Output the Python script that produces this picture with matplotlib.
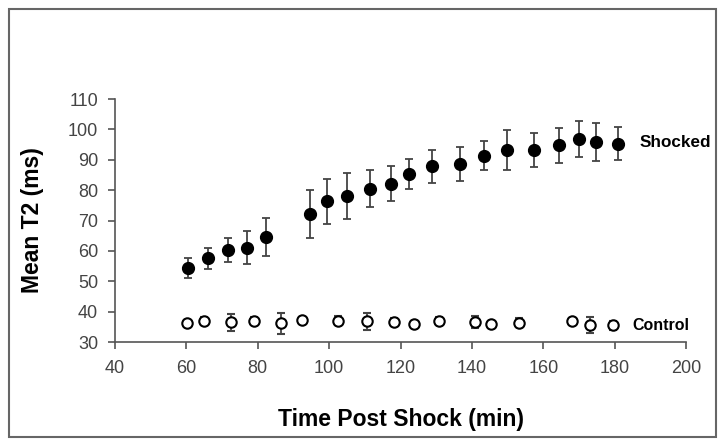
import matplotlib
matplotlib.use("Agg")
import matplotlib.pyplot as plt
from matplotlib.patches import Rectangle

# shocked group
shock_t = [60.4, 66.1, 71.7, 76.9, 82.4, 94.5, 99.4, 104.9, 111.4, 117.3, 122.4,
           128.9, 136.7, 143.3, 149.8, 157.3, 164.4, 169.9, 174.8, 181.0]
shock_t2 = [54.5, 57.6, 60.2, 61.0, 64.5, 72.0, 76.3, 78.0, 80.5, 82.1, 85.4,
            87.8, 88.6, 91.3, 93.3, 93.2, 94.7, 96.8, 95.9, 95.3]
shock_err = [3.3, 3.4, 3.9, 5.4, 6.2, 7.9, 7.3, 7.5, 6.1, 5.8, 5.0,
             5.4, 5.7, 4.8, 6.6, 5.5, 5.6, 5.9, 6.2, 5.5]

# control group
ctrl_t = [60.1, 64.9, 72.6, 79.0, 86.4, 92.3, 102.6, 110.5, 118.2, 123.7,
          130.8, 140.8, 145.2, 153.2, 167.9, 173.1, 179.6]
ctrl_t2 = [36.4, 37.0, 36.5, 37.0, 36.2, 37.3, 37.0, 36.8, 36.6, 36.1,
           37.1, 36.7, 35.9, 36.3, 37.1, 35.6, 35.5]
ctrl_err = [0.9, 1.4, 2.7, 1.2, 3.4, 1.0, 1.5, 2.8, 1.2, 1.0,
            1.2, 2.0, 1.2, 1.5, 0.8, 2.6, 1.5]

plt.rcParams['font.family'] = ['Liberation Sans', 'DejaVu Sans']

fig = plt.figure(figsize=(7.27, 4.46), dpi=100)
ax = fig.add_axes([0.158, 0.233, 0.786, 0.545])

ax.errorbar(shock_t, shock_t2, yerr=shock_err, fmt='o', color='black', ms=8.5,
            ecolor='#444444', elinewidth=1.3, capsize=3, capthick=1.3, zorder=3)
ax.errorbar(ctrl_t, ctrl_t2, yerr=ctrl_err, fmt='o', mfc='white', mec='black',
            mew=1.5, ms=7.5, ecolor='#444444', elinewidth=1.3, capsize=3,
            capthick=1.3, zorder=3)

ax.text(187, 95.7, 'Shocked', fontsize=12.3, fontweight='bold', va='center')
ax.text(184.8, 35.6, 'Control', fontsize=11.5, fontweight='bold', va='center')

ax.set_xlim(40, 200)
ax.set_ylim(30, 110)
ax.set_xticks(range(40, 201, 20))
ax.set_yticks(range(30, 111, 10))

for s in ['top', 'right']:
    ax.spines[s].set_visible(False)
for s in ['left', 'bottom']:
    ax.spines[s].set_color('#555555')
    ax.spines[s].set_linewidth(1.2)

ax.tick_params(direction='out', length=5, width=1.2, color='#555555',
               labelsize=13, labelcolor='#444444')
ax.tick_params(axis='x', pad=8)
ax.tick_params(axis='y', pad=7)

ax.set_xlabel('Time Post Shock (min)', fontsize=16.5, fontweight='bold', labelpad=22)
ax.set_ylabel('Mean T2 (ms)', fontsize=16.5, fontweight='bold', labelpad=17)

fig.patches.append(Rectangle((0.013, 0.02), 0.972, 0.96, transform=fig.transFigure,
                             fill=False, edgecolor='#666666', linewidth=1.5))

fig.savefig('out.png', dpi=100)
